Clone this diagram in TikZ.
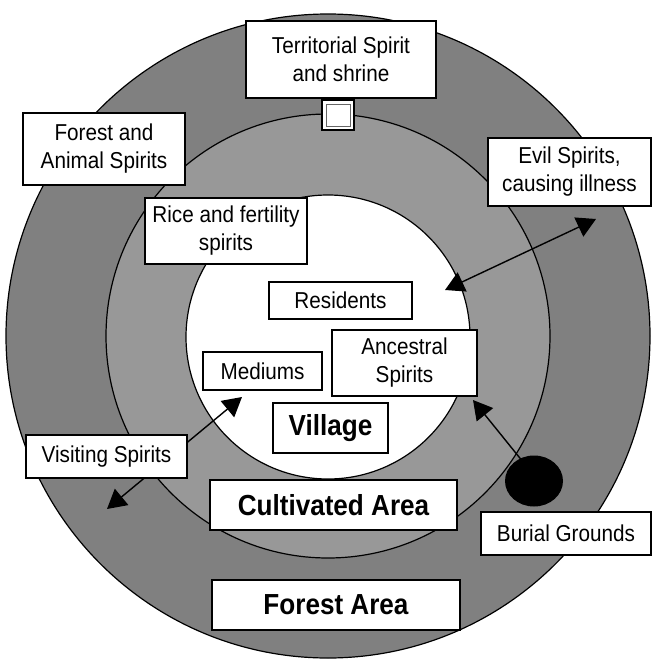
\documentclass[tikz,border=0pt]{standalone}
\usepackage{fontspec}
\setmainfont{Liberation Sans}[FakeStretch=0.9]
\usetikzlibrary{arrows.meta,shapes.geometric}
\definecolor{forestgray}{RGB}{128,128,128}
\definecolor{fieldgray}{RGB}{152,152,152}
\begin{document}
\begin{tikzpicture}[x=1pt, y=-1pt,
                    line width=1.2pt,
                    >={Triangle[length=19pt,width=21pt]}]
    \tikzstyle{ring}=[draw=black, line width=1.2pt]
    \tikzstyle{spiritbox}=[draw=black, fill=white, line width=1.6pt, align=center,
        inner sep=0pt, font=\fontsize{23}{28}\selectfont]
    \tikzstyle{areabox}=[spiritbox, font=\fontsize{29}{32}\selectfont\bfseries];
    \tikzstyle{link}=[line width=1.4pt, <->];

    \useasboundingbox (0,0) rectangle (653,664);

    % the three zones
    \draw[ring, fill=forestgray] (328,336) circle (322);
    \draw[ring, fill=fieldgray] (328,336) circle (222);
    \draw[ring, fill=white] (328,337) circle (142);

    % shrine
    \node[draw=black, fill=white, line width=1.4pt, minimum width=32pt,
          minimum height=30pt, inner sep=0pt] (shrine) at (338,115) {};
    \node[draw=black!60, line width=0.6pt, minimum width=24pt,
          minimum height=22pt, inner sep=0pt] at (shrine) {};

    % burial grounds
    \node[ellipse, fill=black, minimum width=58pt, minimum height=51pt,
          inner sep=0pt] (grave) at (534,481) {};

    % free ends of the arrows
    \coordinate (evilin) at (445,290);
    \coordinate (evilout) at (596,219);
    \coordinate (visitin) at (242,397);
    \coordinate (visitout) at (107,509);
    \coordinate (ancestor) at (473,400);

    \draw[link] (evilin) -- (evilout);
    \draw[link] (visitout) -- (visitin);
    \draw[line width=1.4pt, ->] (grave.north west) ++(8,-3) -- (ancestor);

    % labels
    \node[spiritbox, minimum width=190pt, minimum height=77pt] (terr) at (341,59.5)
        {Territorial Spirit\\and shrine};
    \node[spiritbox, minimum width=162pt, minimum height=72pt] (animal) at (104,149)
        {Forest and\\Animal Spirits};
    \node[spiritbox, minimum width=163pt, minimum height=68pt] (evil) at (569.5,172)
        {Evil Spirits,\\causing illness};
    \node[spiritbox, minimum width=162pt, minimum height=66pt] (rice) at (226,231)
        {Rice and fertility\\spirits};
    \node[spiritbox, minimum width=143pt, minimum height=37pt] (resid) at (340.5,300.5)
        {Residents};
    \node[spiritbox, minimum width=119pt, minimum height=38pt] (medium) at (262.5,371)
        {Mediums};
    \node[spiritbox, minimum width=145pt, minimum height=66pt] (ances) at (404.5,363)
        {Ancestral\\Spirits};
    \node[spiritbox, minimum width=161pt, minimum height=43pt] (visit) at (106.5,456.5)
        {Visiting Spirits};
    \node[spiritbox, minimum width=170pt, minimum height=43pt] (burial) at (566,533.5)
        {Burial Grounds};

    \node[areabox, minimum width=115pt, minimum height=50pt] (village) at (330.5,428)
        {Village};
    \node[areabox, minimum width=247pt, minimum height=50pt] (cultiv) at (333.5,505)
        {Cultivated Area};
    \node[areabox, minimum width=248pt, minimum height=50pt] (forest) at (336,605)
        {Forest Area};
\end{tikzpicture}
\end{document}
